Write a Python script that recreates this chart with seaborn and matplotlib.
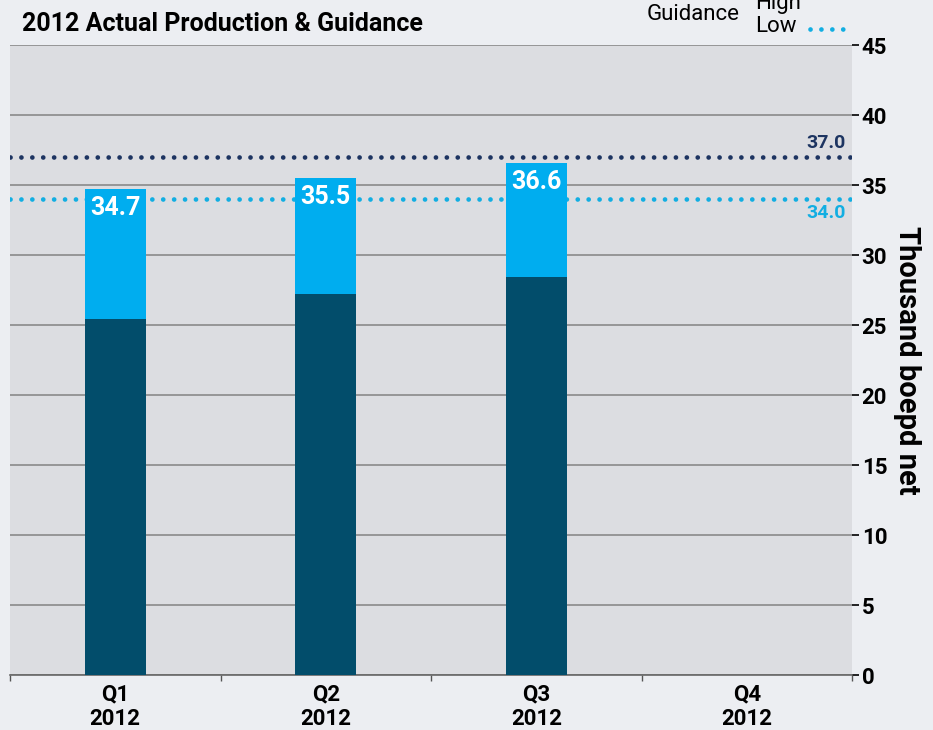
import numpy as np
import pandas as pd
import seaborn as sns
import matplotlib.pyplot as plt
from matplotlib.lines import Line2D

# data
quarters = ["Q1\n2012", "Q2\n2012", "Q3\n2012", "Q4\n2012"]
base_vals = [25.4, 27.2, 28.4, np.nan]      # dark lower segment
total_vals = [34.7, 35.5, 36.6, np.nan]     # full bar height / labels
guidance_high = 37.0
guidance_low = 34.0
y_ticks = [0, 5, 10, 15, 20, 25, 30, 35, 40, 45]

dark = "#024d6b"
light = "#00adef"
navy = "#1d3461"
cyan = "#12aee2"

sns.set_theme(style="white")
plt.rcParams["font.family"] = ["Roboto", "DejaVu Sans"]
plt.rcParams["font.weight"] = "bold"
plt.rcParams["text.color"] = "black"
plt.rcParams["xtick.color"] = "black"
plt.rcParams["ytick.color"] = "black"
plt.rcParams["axes.labelcolor"] = "black"

df = pd.DataFrame({"Quarter": quarters, "Base": base_vals, "Total": total_vals})

fig = plt.figure(figsize=(9.33, 7.30), dpi=100, facecolor="#eceef2")
ax = fig.add_axes([10 / 933, 55 / 730, 842 / 933, 630 / 730])
ax.set_facecolor("#dcdde1")

# grid lines
for t in y_ticks:
    ax.axhline(t, color="#8a8a8a", lw=1.2, zorder=1)

# guidance lines (behind the bars)
ax.axhline(guidance_high, color=navy, lw=3.4, ls=(0, (0.01, 2.3)),
           dash_capstyle="round", zorder=2)
ax.axhline(guidance_low, color=cyan, lw=3.4, ls=(0, (0.01, 2.3)),
           dash_capstyle="round", zorder=2)

# stacked bars: total in light blue, base in dark on top of it
sns.barplot(data=df, x="Quarter", y="Total", order=quarters, color=light,
            width=0.29, saturation=1, linewidth=0, edgecolor="none", ax=ax, zorder=3)
sns.barplot(data=df, x="Quarter", y="Base", order=quarters, color=dark,
            width=0.29, saturation=1, linewidth=0, edgecolor="none", ax=ax, zorder=4)

for i, v in enumerate(total_vals):
    if not np.isnan(v):
        ax.text(i, v - 0.5, f"{v:.1f}", ha="center", va="top", color="white",
                fontsize=18, fontweight="bold", zorder=5)

ax.text(3.47, guidance_high + 0.35, f"{guidance_high:.1f}", ha="right", va="bottom",
        color=navy, fontsize=14, fontweight="bold")
ax.text(3.47, guidance_low - 0.35, f"{guidance_low:.1f}", ha="right", va="top",
        color=cyan, fontsize=14, fontweight="bold")

ax.set_xlim(-0.5, 3.5)
ax.set_ylim(0, 45)
ax.set_yticks(y_ticks)
ax.yaxis.tick_right()
ax.yaxis.set_label_position("right")
ax.tick_params(axis="y", which="major", direction="out", length=5, width=1.2,
               color="black", labelsize=16, pad=2, right=True, left=False)
ax.set_ylabel("Thousand boepd net", rotation=-90, fontsize=21, fontweight="bold",
              labelpad=24)
for lab in ax.get_yticklabels():
    lab.set_fontweight("bold")

ax.set_xlabel("")
ax.tick_params(axis="x", which="major", length=0, labelsize=16, pad=6)
ax.set_xticks(np.arange(-0.5, 3.6, 1.0), minor=True)
ax.tick_params(axis="x", which="minor", direction="out", length=4, width=1,
               color="#555555", bottom=True)
for lab in ax.get_xticklabels():
    lab.set_fontweight("bold")
    lab.set_linespacing(1.15)

for s in ["top", "left", "right"]:
    ax.spines[s].set_visible(False)
ax.spines["bottom"].set_color("#666666")
ax.spines["bottom"].set_linewidth(1.2)

fig.text(22 / 933, 1 - 24 / 730, "2012 Actual Production & Guidance", fontsize=18,
         fontweight="bold", va="center", ha="left")

# guidance legend (top part cut off like the original)
fig.text(740 / 933, 1 - 14 / 730, "Guidance", fontsize=16, fontweight="normal",
         va="center", ha="right")
fig.text(755 / 933, 1 - 3 / 730, "High", fontsize=16, fontweight="normal",
         va="center", ha="left")
fig.text(755 / 933, 1 - 27 / 730, "Low", fontsize=16, fontweight="normal",
         va="center", ha="left")
fig.add_artist(Line2D([810 / 933, 845 / 933], [1 - 29 / 730, 1 - 29 / 730],
                      transform=fig.transFigure, color=cyan, lw=3.4,
                      ls=(0, (0.01, 2.3)), dash_capstyle="round"))
fig.add_artist(Line2D([810 / 933, 845 / 933], [1 + 2 / 730, 1 + 2 / 730],
                      transform=fig.transFigure, color=navy, lw=3.4,
                      ls=(0, (0.01, 2.3)), dash_capstyle="round"))

fig.savefig("out.png", dpi=100, facecolor=fig.get_facecolor())
